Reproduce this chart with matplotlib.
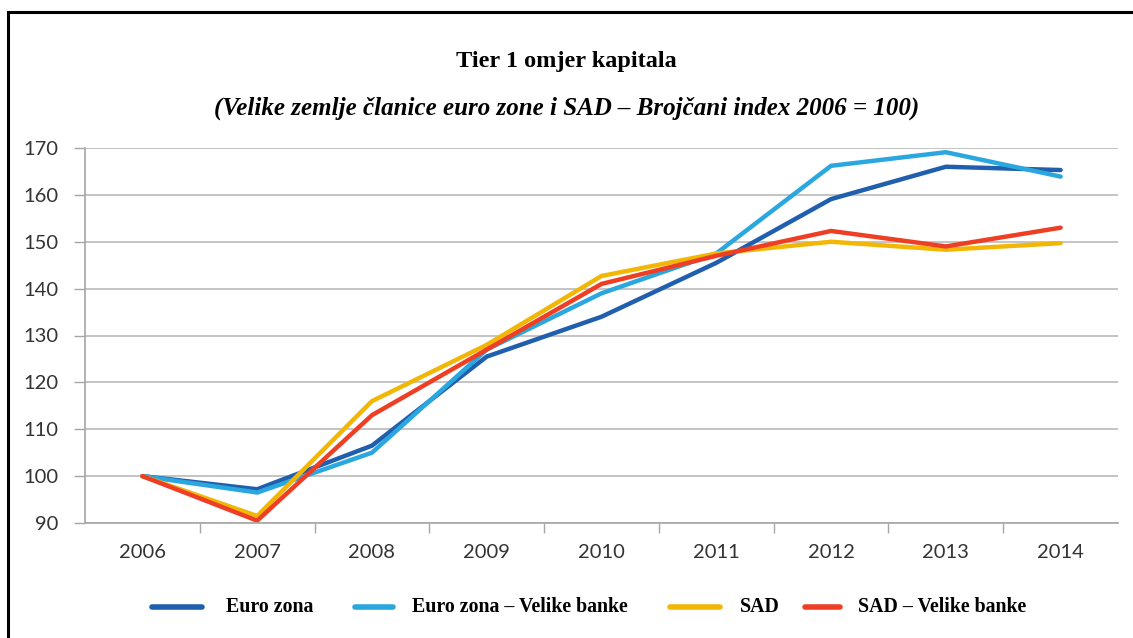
import matplotlib
matplotlib.use("Agg")
import matplotlib.pyplot as plt
from matplotlib.lines import Line2D
from matplotlib.patches import Rectangle

years = ["2006", "2007", "2008", "2009", "2010", "2011", "2012", "2013", "2014"]
euro_zona = [100, 97.2, 106.5, 125.5, 134, 145.5, 159.1, 166, 165.3]
euro_zona_velike = [100, 96.5, 105, 127, 139, 147.5, 166.2, 169.1, 163.9]
sad = [100, 91.5, 116, 128, 142.7, 147.5, 150, 148.3, 149.7]
sad_velike = [100, 90.5, 113, 127, 141, 147, 152.3, 149, 153]
series_names = ["Euro zona", "Euro zona \u2013 Velike banke", "SAD", "SAD \u2013 Velike banke"]
colors = ["#1F5FAD", "#2BA7E0", "#F2B705", "#EE3E24"]
yticks = [90, 100, 110, 120, 130, 140, 150, 160, 170]

W, H = 1133, 638
fig = plt.figure(figsize=(W / 100, H / 100), dpi=100)
fig.patch.set_facecolor("white")

# outer frame (only top and left edges visible)
fig.patches.append(Rectangle((8 / W, -0.1), 1.2, (H - 12) / H + 0.1, transform=fig.transFigure,
                             fill=False, edgecolor="black", linewidth=2.2, zorder=0))

ax = fig.add_axes([85 / W, 1 - 523 / H, (1118 - 85) / W, (523 - 148) / H])
x = list(range(len(years)))
for vals, c in zip([euro_zona, euro_zona_velike, sad, sad_velike], colors):
    ax.plot(x, vals, color=c, linewidth=3.2, solid_capstyle="round", solid_joinstyle="miter")

ax.set_xlim(-0.5, len(years) - 0.5)
ax.set_ylim(90, 170)
ax.set_yticks(yticks)
ax.set_yticklabels([str(v) for v in yticks])
ax.set_xticks(x)
ax.set_xticklabels(years)
ax.set_xticks([i + 0.5 for i in range(len(years) - 1)], minor=True)
ax.tick_params(axis="x", which="major", length=0, pad=15)
ax.tick_params(axis="x", which="minor", length=7, color="#A6A6A6", width=1)
ax.tick_params(axis="y", length=8, color="#A6A6A6", width=1, pad=11)
for lab in ax.get_xticklabels() + ax.get_yticklabels():
    lab.set_fontfamily("Lato")
    lab.set_fontsize(14.5)
    lab.set_color("#333333")
ax.grid(axis="y", color="#BFBFBF", linewidth=1.3)
ax.set_axisbelow(True)
for s in ["top", "right"]:
    ax.spines[s].set_visible(False)
ax.spines["left"].set_color("#A6A6A6")
ax.spines["bottom"].set_color("#A6A6A6")
ax.spines["left"].set_linewidth(1.2)
ax.spines["bottom"].set_linewidth(1.2)

fig.text(0.5, 1 - 62 / H, "Tier 1 omjer kapitala", ha="center", va="center",
         fontfamily="Liberation Serif", fontweight="bold", fontsize=17.5)
fig.text(0.5, 1 - 108 / H, "(Velike zemlje \u010dlanice euro zone i SAD \u2013 Broj\u010dani index 2006 = 100)",
         ha="center", va="center", fontfamily="Liberation Serif", fontweight="bold",
         fontstyle="italic", fontsize=18)

# legend
leg_y = 1 - 607 / H
handles = [(152, 202, 226), (355, 393, 412), (670, 720, 740), (805, 840, 858)]
for (x0, x1, tx), c, name in zip(handles, colors, series_names):
    fig.lines.append(Line2D([x0 / W, x1 / W], [leg_y, leg_y], transform=fig.transFigure,
                            color=c, linewidth=4, solid_capstyle="round"))
    fig.text(tx / W, leg_y, name, ha="left", va="center", fontfamily="Liberation Serif",
             fontweight="bold", fontsize=14.3)

fig.savefig("out.png", dpi=100, facecolor="white")
